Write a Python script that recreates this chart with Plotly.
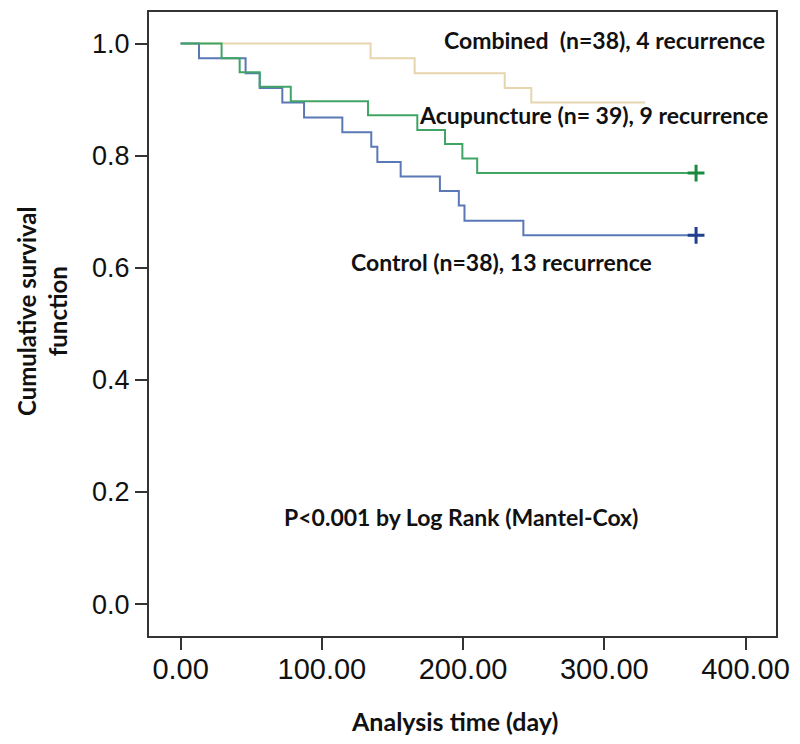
import plotly.graph_objects as go

# ---- data ----
combined_times = [134.5, 165.7, 229.5, 248.3]
combined_surv = [0.974, 0.947, 0.921, 0.895]
combined_end = 329

acu_times = [29, 41.8, 56, 78, 132.7, 167.6, 187.2, 199.5, 210]
acu_surv = [0.974, 0.949, 0.923, 0.897, 0.872, 0.846, 0.821, 0.795, 0.769]
acu_end = 365

ctrl_times = [13, 46, 56, 72, 87.4, 114.5, 135, 139.3, 155.8, 183.6, 197, 201, 242.7]
ctrl_surv = [0.974, 0.947, 0.921, 0.895, 0.868, 0.842, 0.816, 0.789, 0.763, 0.737, 0.711, 0.684, 0.658]
ctrl_end = 365

x_ticks = [0, 100, 200, 300, 400]
x_tick_labels = ["0.00", "100.00", "200.00", "300.00", "400.00"]
y_ticks = [0.0, 0.2, 0.4, 0.6, 0.8, 1.0]
y_tick_labels = ["0.0", "0.2", "0.4", "0.6", "0.8", "1.0"]


def km_xy(times, surv, end):
    xs = [0] + list(times) + [end]
    ys = [1.0] + list(surv) + [surv[-1]]
    return xs, ys


# plot area in page pixels (page body has an 8px margin)
PL, PR, PT, PB = 149, 776, 10, 636


def px(x):
    return (x - PL) / (PR - PL)


def py(y):
    return (PB - y) / (PB - PT)


fig = go.Figure()

cx, cy = km_xy(combined_times, combined_surv, combined_end)
fig.add_trace(go.Scatter(x=cx, y=cy, mode="lines", line=dict(color="#e6d5ad", width=2, shape="hv"),
                         showlegend=False, hoverinfo="skip"))

kx, ky = km_xy(ctrl_times, ctrl_surv, ctrl_end)
fig.add_trace(go.Scatter(x=kx, y=ky, mode="lines", line=dict(color="#5b78b6", width=2, shape="hv"),
                         showlegend=False, hoverinfo="skip"))

ax, ay = km_xy(acu_times, acu_surv, acu_end)
fig.add_trace(go.Scatter(x=ax, y=ay, mode="lines", line=dict(color="#40a564", width=2, shape="hv"),
                         showlegend=False, hoverinfo="skip"))

# censor marks at the end
fig.add_trace(go.Scatter(x=[ctrl_end], y=[ctrl_surv[-1]], mode="markers",
                         marker=dict(symbol="cross-thin", size=12, line=dict(color="#1f3f8f", width=3)),
                         showlegend=False, hoverinfo="skip"))
fig.add_trace(go.Scatter(x=[acu_end], y=[acu_surv[-1]], mode="markers",
                         marker=dict(symbol="cross-thin", size=12, line=dict(color="#1a8a3c", width=3)),
                         showlegend=False, hoverinfo="skip"))

ann_font = dict(family="Lato", size=23, color="#111111")
annotations = [
    dict(x=441.7, y=38.3, text="<b>Combined  (n=38), 4 recurrence</b>"),
    dict(x=416.7, y=113.3, text="<b>Acupuncture (n= 39), 9 recurrence</b>"),
    dict(x=349.3, y=261.3, text="<b>Control (n=38), 13 recurrence</b>"),
    dict(x=281.7, y=517, text="<b>P<0.001 by Log Rank (Mantel-Cox)</b>"),
]
for a in annotations:
    fig.add_annotation(x=px(a["x"]), y=py(a["y"]), xref="paper", yref="paper",
                       text=a["text"].replace("  ", "&nbsp; "), showarrow=False, xanchor="left", yanchor="middle",
                       font=ann_font)

# axis titles
fig.add_annotation(x=px(454), y=py(721), xref="paper", yref="paper",
                   text="<b>Analysis time (day)</b>", showarrow=False,
                   xanchor="center", yanchor="middle",
                   font=dict(family="Lato", size=25, color="#111111"))
fig.add_annotation(x=px(42), y=py(310), xref="paper", yref="paper",
                   text="<b>Cumulative survival<br>function</b>", showarrow=False, textangle=-90,
                   xanchor="center", yanchor="middle",
                   font=dict(family="Lato", size=24, color="#111111"))

fig.update_layout(
    width=792, height=736,
    margin=dict(l=PL - 8, r=800 - PR, t=PT - 8, b=744 - PB),
    paper_bgcolor="white", plot_bgcolor="white",
    xaxis=dict(range=[-22.4, 421.6], tickvals=x_ticks, ticktext=x_tick_labels,
               showgrid=False, zeroline=False, showline=True, linecolor="#333333", linewidth=2,
               mirror=True, ticks="outside", ticklen=12, tickwidth=2, tickcolor="#333333",
               ticklabelstandoff=-6,
               tickfont=dict(family="Liberation Sans", size=29, color="#111111")),
    yaxis=dict(range=[-0.0569, 1.0564], tickvals=y_ticks, ticktext=y_tick_labels,
               showgrid=False, zeroline=False, showline=True, linecolor="#333333", linewidth=2,
               mirror=True, ticks="outside", ticklen=12, tickwidth=2, tickcolor="#333333",
               tickfont=dict(family="Liberation Sans", size=27, color="#111111")),
)

fig.write_html("out.html")
